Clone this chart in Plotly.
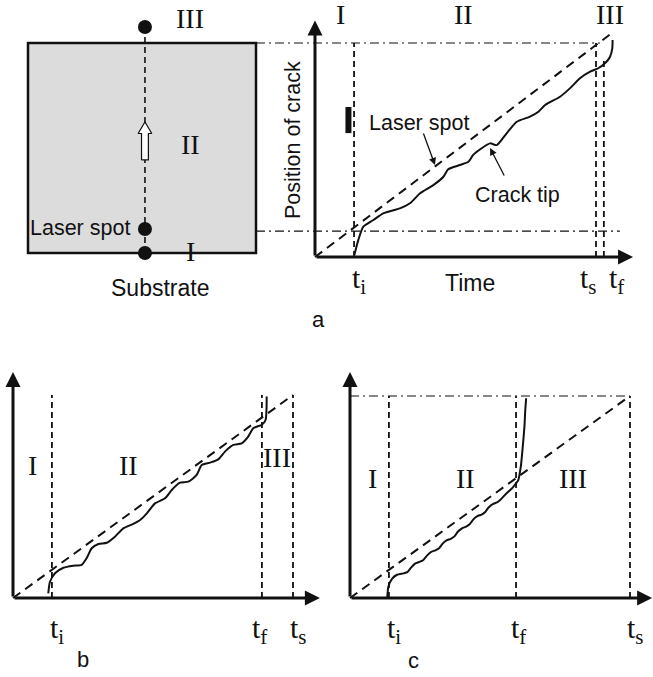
import plotly.graph_objects as go

W, H = 653, 677

# ---------------- data (panel units: time t_s = 1, substrate height = 1) ----------------
# Panel a (left): substrate, coordinates normalised to the square
SUB_X_LINE = 0.513
SUB_DOT_Y = [1.076, 0.114, 0.0]          # III, laser spot, I
SUB_ARROW = (0.443, 0.624)               # hollow arrow base -> tip

# Panel a (right): crack position vs time
A_TI, A_TS, A_TF = 0.139, 1.0, 1.028
A_POS_LOW, A_POS_TOP = 0.121, 1.0
A_LASER_T = [0.0, 1.06]
A_LASER_P = [0.0, 1.05]
A_CRACK_T = [0.140, 0.154, 0.172, 0.208, 0.243, 0.302, 0.338, 0.374, 0.421, 0.457,
             0.474, 0.516, 0.546, 0.563, 0.593, 0.623, 0.647, 0.682, 0.718, 0.765,
             0.795, 0.819, 0.872, 0.907, 0.943, 0.979, 1.008, 1.032, 1.050, 1.058, 1.059]
A_CRACK_P = [0.009, 0.079, 0.142, 0.173, 0.204, 0.227, 0.251, 0.298, 0.336, 0.375,
             0.410, 0.430, 0.445, 0.477, 0.508, 0.531, 0.523, 0.578, 0.632, 0.656,
             0.679, 0.710, 0.749, 0.788, 0.835, 0.866, 0.882, 0.905, 0.936, 0.975, 1.014]

# Panel b
B_TI, B_TF, B_TS = 0.139, 0.889, 1.0
B_LASER_T = [0.0, 1.0]
B_LASER_P = [0.0, 1.0]
B_CRACK_T = [0.126, 0.132, 0.150, 0.180, 0.215, 0.245, 0.263, 0.281, 0.305, 0.335,
             0.364, 0.394, 0.430, 0.454, 0.478, 0.507, 0.543, 0.567, 0.596, 0.626,
             0.656, 0.674, 0.704, 0.733, 0.757, 0.787, 0.817, 0.840, 0.858, 0.876,
             0.888, 0.902, 0.906]
B_CRACK_P = [0.023, 0.080, 0.122, 0.149, 0.159, 0.163, 0.196, 0.245, 0.266, 0.272,
             0.302, 0.343, 0.365, 0.384, 0.417, 0.466, 0.491, 0.532, 0.568, 0.573,
             0.606, 0.655, 0.667, 0.683, 0.721, 0.754, 0.762, 0.795, 0.836, 0.847,
             0.852, 0.877, 0.992]

# Panel c
C_TI, C_TF, C_TS = 0.139, 0.593, 1.0
C_LASER_T = [0.0, 1.0]
C_LASER_P = [0.0, 1.0]
C_CRACK_T = [0.133, 0.137, 0.150, 0.168, 0.190, 0.205, 0.218, 0.232, 0.250, 0.262,
             0.275, 0.290, 0.305, 0.318, 0.330, 0.345, 0.360, 0.373, 0.385, 0.400,
             0.415, 0.428, 0.440, 0.455, 0.470, 0.483, 0.495, 0.510, 0.525, 0.538,
             0.552, 0.567, 0.580, 0.593, 0.601, 0.610, 0.617, 0.623, 0.626, 0.629]
C_CRACK_P = [0.000, 0.056, 0.095, 0.115, 0.122, 0.128, 0.150, 0.170, 0.180, 0.188,
             0.210, 0.228, 0.236, 0.246, 0.268, 0.285, 0.293, 0.305, 0.328, 0.345,
             0.353, 0.366, 0.388, 0.405, 0.413, 0.426, 0.448, 0.465, 0.473, 0.488,
             0.508, 0.528, 0.545, 0.568, 0.584, 0.650, 0.749, 0.848, 0.931, 0.989]

ROMAN = ["I", "II", "III"]

# ---------------- panel frames: origin pixel and pixels per unit ----------------
FRAMES = {
    "": dict(ox=28, oy=253, sx=228, sy=210),     # substrate
    "2": dict(ox=315, oy=257, sx=281, sy=214),   # a
    "3": dict(ox=13, oy=598, sx=280, sy=203),    # b
    "4": dict(ox=350, oy=598, sx=280, sy=202),   # c
}

SERIF = "Liberation Serif"
SANS = "Liberation Sans"
BLACK = "#111111"
ROMAN_SIZE = 28
T_SIZE = 30

fig = go.Figure()
layout = dict(width=W, height=H, margin=dict(l=0, r=0, t=0, b=0),
              paper_bgcolor="white", plot_bgcolor="white", showlegend=False)
for k, f in FRAMES.items():
    xr = [(0 - f["ox"]) / f["sx"], (W - f["ox"]) / f["sx"]]
    yr = [(f["oy"] - H) / f["sy"], f["oy"] / f["sy"]]
    xa = dict(range=xr, visible=False, domain=[0, 1], anchor="y" + k, fixedrange=True)
    ya = dict(range=yr, visible=False, domain=[0, 1], anchor="x" + k, fixedrange=True)
    if k:
        xa["overlaying"] = "x"
        ya["overlaying"] = "y"
    layout["xaxis" + k] = xa
    layout["yaxis" + k] = ya

shapes, annotations = [], []


def line(k, xs, ys, width=1.8, dash=None, spline=False):
    fig.add_trace(go.Scatter(
        x=xs, y=ys, xaxis="x" + k, yaxis="y" + k, mode="lines", hoverinfo="skip",
        line=dict(color=BLACK, width=width, dash=dash,
                  shape="spline" if spline else "linear", smoothing=0.6)))


def text(k, x, y, s, size=21, font=SANS, **kw):
    annotations.append(dict(x=x, y=y, xref="x" + k, yref="y" + k, text=s,
                            showarrow=False, font=dict(family=font, size=size, color=BLACK),
                            **kw))


def arrow(k, x0, y0, x1, y1, width=3, head=2, size=1.0):
    annotations.append(dict(x=x1, y=y1, ax=x0, ay=y0, xref="x" + k, yref="y" + k,
                            axref="x" + k, ayref="y" + k, text="", showarrow=True,
                            arrowhead=head, arrowwidth=width, arrowsize=size,
                            arrowcolor=BLACK, standoff=0, startstandoff=0))


DASH = "6px,4px"
LASER = "9px,6px"
DASHDOT = "9px,4px,2px,4px"

# ---------------- panel a (left): substrate ----------------
shapes.append(dict(type="rect", xref="x", yref="y", x0=0, x1=1, y0=0, y1=1,
                   fillcolor="#dcdcdc", line=dict(color=BLACK, width=2.5), layer="below"))
line("", [SUB_X_LINE, SUB_X_LINE], [0, SUB_DOT_Y[0]], width=1.6, dash=DASH)
# hollow arrow showing the scan direction
ab, at = SUB_ARROW
hw, hh, sw = 0.030, 0.055, 0.015
ax_poly = [SUB_X_LINE - sw, SUB_X_LINE - sw, SUB_X_LINE - hw, SUB_X_LINE, SUB_X_LINE + hw,
           SUB_X_LINE + sw, SUB_X_LINE + sw, SUB_X_LINE - sw]
ay_poly = [ab, at - hh, at - hh, at, at - hh, at - hh, ab, ab]
fig.add_trace(go.Scatter(x=ax_poly, y=ay_poly, mode="lines", fill="toself",
                         fillcolor="white", line=dict(color=BLACK, width=1.2),
                         hoverinfo="skip"))
fig.add_trace(go.Scatter(x=[SUB_X_LINE] * 3, y=SUB_DOT_Y, mode="markers",
                         marker=dict(color=BLACK, size=14), hoverinfo="skip"))
text("", 0.711, 1.119, ROMAN[2], size=ROMAN_SIZE, font=SERIF)
text("", 0.711, 0.519, ROMAN[1], size=ROMAN_SIZE, font=SERIF)
text("", 0.711, 0.005, ROMAN[0], size=ROMAN_SIZE, font=SERIF)
text("", 0.457, SUB_DOT_Y[1] + 0.005, "Laser spot", size=21.5, xanchor="right")
text("", 0.579, -0.167, "Substrate", size=23)

# ---------------- panel a (right) ----------------
k = "2"
# guide lines linking the substrate edges with the plot
sub = FRAMES[""]
fa = FRAMES[k]
x_sub_edge = ((sub["ox"] + sub["sx"]) - fa["ox"]) / fa["sx"]
line(k, [x_sub_edge, 1.014], [A_POS_TOP, A_POS_TOP], width=1.2, dash=DASHDOT)
line(k, [x_sub_edge, 1.085], [A_POS_LOW, A_POS_LOW], width=1.2, dash=DASHDOT)
line(k, [A_TI, A_TI], [0, A_POS_TOP], dash=DASH)
line(k, [A_TS, A_TS], [0, A_POS_TOP], dash=DASH)
line(k, [A_TF, A_TF], [0, 0.92], dash=DASH)
line(k, A_LASER_T, A_LASER_P, width=2, dash=LASER)
line(k, A_CRACK_T, A_CRACK_P, width=2, spline=True)
line(k, [0.119, 0.119], [0.579, 0.701], width=6)
arrow(k, 0, 0, 0, 1.105)
arrow(k, 0, 0, 1.132, 0)
text(k, 0.089, 1.131, ROMAN[0], size=ROMAN_SIZE, font=SERIF)
text(k, 0.527, 1.131, ROMAN[1], size=ROMAN_SIZE, font=SERIF)
text(k, 1.050, 1.131, ROMAN[2], size=ROMAN_SIZE, font=SERIF)
text(k, -0.078, 0.547, "Position of crack", size=21.5, textangle=-90)
text(k, 0.185, 0.626, "Laser spot", size=21.5, xanchor="left")
arrow(k, 0.384, 0.584, 0.427, 0.430, width=1.3, head=2, size=1.1)
text(k, 0.719, 0.290, "Crack tip", size=21.5)
arrow(k, 0.676, 0.374, 0.623, 0.509, width=1.3, head=2, size=1.1)
text(k, A_TI, -0.107, "t<sub>i</sub>", size=T_SIZE, font=SERIF, xshift=5)
text(k, A_TS - 0.025, -0.107, "t<sub>s</sub>", size=T_SIZE, font=SERIF)
text(k, A_TF + 0.045, -0.107, "t<sub>f</sub>", size=T_SIZE, font=SERIF)
text(k, 0.552, -0.12, "Time", size=23)
text(k, 0.011, -0.294, "a", size=22)

# ---------------- panel b ----------------
k = "3"
for t in (B_TI, B_TF, B_TS):
    line(k, [t, t], [0, 1.0], dash=DASH)
line(k, B_LASER_T, B_LASER_P, width=2, dash=LASER)
line(k, B_CRACK_T, B_CRACK_P, width=2, spline=True)
arrow(k, 0, 0, 0, 1.113)
arrow(k, 0, 0, 1.096, 0)
text(k, 0.071, 0.655, ROMAN[0], size=ROMAN_SIZE, font=SERIF)
text(k, 0.411, 0.655, ROMAN[1], size=ROMAN_SIZE, font=SERIF)
text(k, 0.943, 0.690, ROMAN[2], size=ROMAN_SIZE, font=SERIF)
text(k, B_TI, -0.158, "t<sub>i</sub>", size=T_SIZE, font=SERIF, xshift=5)
text(k, B_TF, -0.158, "t<sub>f</sub>", size=T_SIZE, font=SERIF, xshift=-2)
text(k, B_TS, -0.158, "t<sub>s</sub>", size=T_SIZE, font=SERIF, xshift=5)
text(k, 0.25, -0.305, "b", size=22)

# ---------------- panel c ----------------
k = "4"
line(k, [0, C_TS], [1.0, 1.0], width=1.2, dash=DASHDOT)
for t in (C_TI, C_TF, C_TS):
    line(k, [t, t], [0, 1.0], dash=DASH)
line(k, C_LASER_T, C_LASER_P, width=2, dash=LASER)
line(k, C_CRACK_T, C_CRACK_P, width=2, spline=True)
arrow(k, 0, 0, 0, 1.119)
arrow(k, 0, 0, 1.079, 0)
text(k, 0.079, 0.594, ROMAN[0], size=ROMAN_SIZE, font=SERIF)
text(k, 0.411, 0.594, ROMAN[1], size=ROMAN_SIZE, font=SERIF)
text(k, 0.796, 0.594, ROMAN[2], size=ROMAN_SIZE, font=SERIF)
text(k, C_TI, -0.158, "t<sub>i</sub>", size=T_SIZE, font=SERIF, xshift=5)
text(k, C_TF, -0.158, "t<sub>f</sub>", size=T_SIZE, font=SERIF, xshift=2)
text(k, C_TS, -0.158, "t<sub>s</sub>", size=T_SIZE, font=SERIF, xshift=5)
text(k, 0.225, -0.307, "c", size=22)

layout["shapes"] = shapes
layout["annotations"] = annotations
fig.update_layout(**layout)
fig.write_html("out.html", config={"displayModeBar": False})
